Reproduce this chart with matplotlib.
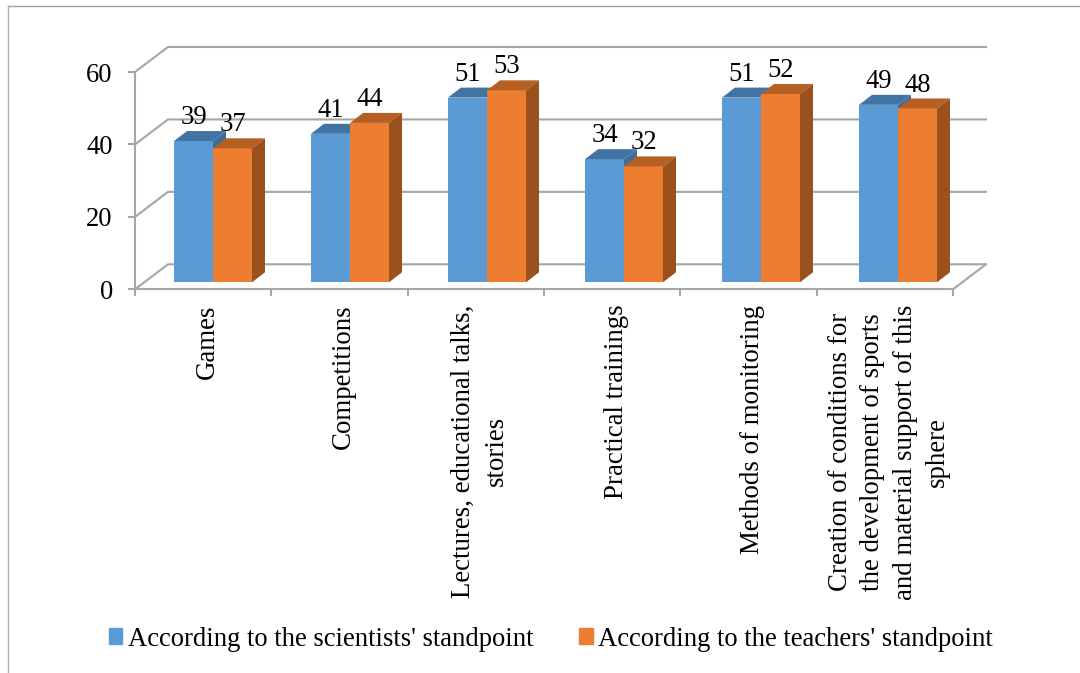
import matplotlib
matplotlib.use('Agg')
import matplotlib.pyplot as plt
from matplotlib.lines import Line2D
from matplotlib.patches import Rectangle

categories = ['Games', 'Competitions', 'Lectures, educational talks,\nstories', 'Practical trainings',
              'Methods of monitoring',
              'Creation of conditions for\nthe development of sports\nand material support of this\nsphere']
scientists = [39, 41, 51, 34, 51, 49]
teachers = [37, 44, 53, 32, 52, 48]
y_ticks = [0, 20, 40, 60]
series_names = ["According to the scientists' standpoint", "According to the teachers' standpoint"]

W, H = 1080, 673
plt.rcParams['font.family'] = ['Liberation Serif', 'DejaVu Serif']

fig = plt.figure(figsize=(W / 100, H / 100), dpi=100)
ax = fig.add_axes([135 / W, 1 - 289.3 / H, (953 - 135) / W, (289.3 - 72) / H])
ax.set_xlim(0, 6)
ax.set_ylim(0, 60)
ax.patch.set_visible(False)

grey = '#a6a6a6'
line_w = 1.5
font_size = 19.2

# pixels -> data units for the fake 3d depth
px_x = 6 / (953 - 135)
px_y = 60 / (289.3 - 72)
wall_dx, wall_dy = 33 * px_x, 25 * px_y
depth_dx, depth_dy = 13 * px_x, 10 * px_y
floor_dy = 7 * px_y
bar_w = 39 * px_x
group_pitch = 137 * px_x
first_left = 39 * px_x

for v in y_ticks:
    ax.plot([0, wall_dx, 6 + wall_dx], [v, v + wall_dy, v + wall_dy], color=grey, lw=line_w, clip_on=False, zorder=1)
ax.plot([6, 6 + wall_dx], [0, wall_dy], color=grey, lw=line_w, clip_on=False, zorder=1)


def draw_bar(x, value, front, top, side):
    base = floor_dy
    ax.bar(x, value, bar_w, bottom=base, align='edge', color=front, linewidth=0, zorder=3, clip_on=False)
    ax.fill([x, x + depth_dx, x + bar_w + depth_dx, x + bar_w],
            [base + value, base + value + depth_dy, base + value + depth_dy, base + value],
            color=top, linewidth=0, zorder=3, clip_on=False)
    ax.fill([x + bar_w, x + bar_w + depth_dx, x + bar_w + depth_dx, x + bar_w],
            [base, base + depth_dy, base + value + depth_dy, base + value],
            color=side, linewidth=0, zorder=3, clip_on=False)
    ax.annotate(str(value), (x + bar_w / 2, base + value), xytext=(0, 12.2), textcoords='offset points',
                ha='center', va='baseline', fontsize=font_size, color='black', zorder=5, annotation_clip=False)


for i in range(len(categories)):
    left = first_left + i * group_pitch
    draw_bar(left, scientists[i], '#5b9bd5', '#4274a3', '#3d6d9a')
    draw_bar(left + bar_w, teachers[i], '#ed7d31', '#b65f23', '#9b511e')

for name in ['top', 'right']:
    ax.spines[name].set_visible(False)
for name in ['left', 'bottom']:
    ax.spines[name].set_color(grey)
    ax.spines[name].set_linewidth(line_w)

ax.set_yticks(y_ticks)
ax.tick_params(axis='y', length=5, width=line_w, color=grey, labelsize=font_size, pad=11)
ax.set_xticks(range(7))
ax.set_xticklabels([])
ax.tick_params(axis='x', which='major', length=5, width=line_w, color=grey)
# labels sit a little right of the category centres
ax.set_xticks([i + 0.5 + 4 * px_x for i in range(6)], minor=True)
ax.set_xticklabels(categories, minor=True, rotation=90, fontsize=19.35, ha='center', va='top',
                   multialignment='center', linespacing=1.39)
ax.tick_params(axis='x', which='minor', length=0, pad=11)

handles = [Rectangle((0, 0), 1, 1, color='#5b9bd5'), Rectangle((0, 0), 1, 1, color='#ed7d31')]
fig.legend(handles, series_names, ncol=2, frameon=False, fontsize=font_size, loc='center',
           bbox_to_anchor=(551 / W, 1 - 639 / H), handlelength=0.5, handleheight=0.5,
           handletextpad=0.2, columnspacing=1.73, borderpad=0, borderaxespad=0)

# outer frame of the picture
fig.add_artist(Line2D([7.5 / W, 1], [1 - 5.5 / H, 1 - 5.5 / H], color='#a0a0a0', lw=1))
fig.add_artist(Line2D([7.5 / W, 7.5 / W], [0, 1 - 5.5 / H], color='#b0b0b0', lw=1))

fig.savefig('out.png', dpi=100)
